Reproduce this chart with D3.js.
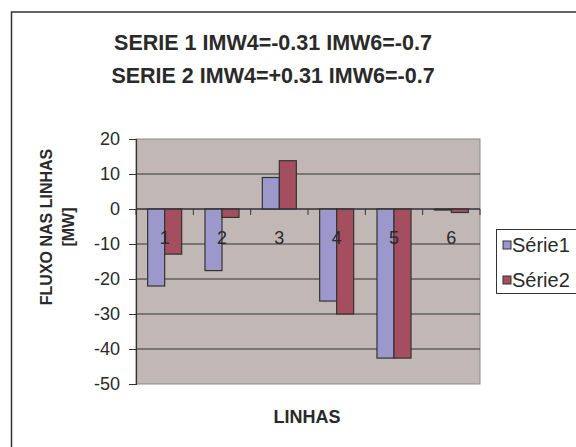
<!DOCTYPE html>
<html><head><meta charset="utf-8">
<script src="https://cdn.jsdelivr.net/npm/d3@7"></script>
<style>body{margin:0;background:#fff}svg{display:block}text{font-family:"Liberation Sans",Arial,sans-serif;fill:#2a2a2a}</style>
</head><body><svg id="c" width="576" height="447"></svg>
<script>
const categories = ["1","2","3","4","5","6"];
const seriesNames = ["Série1","Série2"];
const serie1 = [-22, -17.6, 9, -26.3, -42.6, -0.3];
const serie2 = [-12.9, -2.4, 13.8, -30, -42.6, -1];
const yTicks = [20,10,0,-10,-20,-30,-40,-50];
const titleLines = ["SERIE 1 IMW4=-0.31 IMW6=-0.7","SERIE 2 IMW4=+0.31 IMW6=-0.7"];
const colors = ["#9C98CC","#A54E5F"];

const svg = d3.select("#c");
svg.append("rect").attr("x",11.5).attr("y",12).attr("width",700).attr("height",600)
  .attr("fill","#fff").attr("stroke","#333").attr("stroke-width",1.5);

const L=136,R=480,T=139,B=384;
const y = d3.scaleLinear().domain([-50,20]).range([B,T]);
const x0 = d3.scaleBand().domain(categories).range([L,R]).padding(0);
const x1 = d3.scaleBand().domain(seriesNames).range([0,x0.bandwidth()]).paddingInner(0).paddingOuter(0.686);

svg.append("rect").attr("x",L).attr("y",T).attr("width",R-L).attr("height",B-T)
  .attr("fill","#C1B8B5").attr("stroke","#8a8a8a").attr("stroke-width",1);

// gridlines
svg.append("g").selectAll("line").data(yTicks.filter(d=>d>-50 && d<20)).join("line")
  .attr("x1",L).attr("x2",R).attr("y1",d=>y(d)).attr("y2",d=>y(d))
  .attr("stroke","#333").attr("stroke-width",1);

// y axis
const ya = svg.append("g").attr("transform",`translate(${L},0)`)
  .call(d3.axisLeft(y).tickValues(yTicks).tickSize(7).tickPadding(9).tickFormat(d=>String(d)));
ya.select(".domain").attr("stroke","#333").attr("stroke-width",1.2);
ya.selectAll(".tick line").attr("stroke","#333");
ya.selectAll("text").style("font-size","18px").attr("fill","#2a2a2a").style("font-family","Liberation Sans, Arial, sans-serif");

// bars
const data = categories.map((c,i)=>({c, vals:[serie1[i],serie2[i]]}));
const g = svg.append("g").selectAll("g").data(data).join("g")
  .attr("transform",d=>`translate(${x0(d.c)},0)`);
g.selectAll("rect").data(d=>d.vals.map((v,j)=>({v,s:seriesNames[j],j}))).join("rect")
  .attr("x",d=>x1(d.s)).attr("width",x1.bandwidth())
  .attr("y",d=>y(Math.max(0,d.v))).attr("height",d=>Math.abs(y(d.v)-y(0)))
  .attr("fill",d=>colors[d.j]).attr("stroke","#333").attr("stroke-width",1.2);

// x axis at zero with category ticks at boundaries
const xa = svg.append("g").attr("transform",`translate(0,${y(0)})`);
xa.append("line").attr("x1",L).attr("x2",R).attr("stroke","#333").attr("stroke-width",1.2);
const bounds = categories.map(c=>x0(c)).concat([R]);
xa.selectAll("line.t").data(bounds).join("line").attr("class","t")
  .attr("x1",d=>d).attr("x2",d=>d).attr("y1",0).attr("y2",6).attr("stroke","#333");
xa.selectAll("text").data(categories).join("text")
  .attr("x",d=>x0(d)+x0.bandwidth()/2).attr("y",35).attr("text-anchor","middle")
  .style("font-size","18px").text(d=>d);

// titles
svg.append("g").selectAll("text").data(titleLines).join("text")
  .attr("x",273).attr("y",(d,i)=>50+i*33).attr("text-anchor","middle")
  .style("font-size","21.5px").style("font-weight","bold").text(d=>d);
svg.append("text").attr("x",307).attr("y",423).attr("text-anchor","middle")
  .style("font-size","18px").style("font-weight","bold").text("LINHAS");
const yt = svg.append("g");
yt.append("text").attr("transform","translate(52,227) rotate(-90)").attr("text-anchor","middle")
  .style("font-size","16px").style("font-weight","bold").text("FLUXO NAS LINHAS");
yt.append("text").attr("transform","translate(74,227) rotate(-90)").attr("text-anchor","middle")
  .style("font-size","16px").style("font-weight","bold").text("[MW]");

// legend
const lg = svg.append("g");
lg.append("rect").attr("x",496.5).attr("y",229.5).attr("width",120).attr("height",64)
  .attr("fill","#fff").attr("stroke","#333").attr("stroke-width",1);
lg.selectAll("rect.k").data(seriesNames).join("rect").attr("class","k")
  .attr("x",503).attr("y",(d,i)=>241+i*35).attr("width",8).attr("height",8)
  .attr("fill",(d,i)=>colors[i]).attr("stroke","#333");
lg.selectAll("text").data(seriesNames).join("text")
  .attr("x",512).attr("y",(d,i)=>252+i*35).style("font-size","20px").text(d=>d);
</script></body></html>
